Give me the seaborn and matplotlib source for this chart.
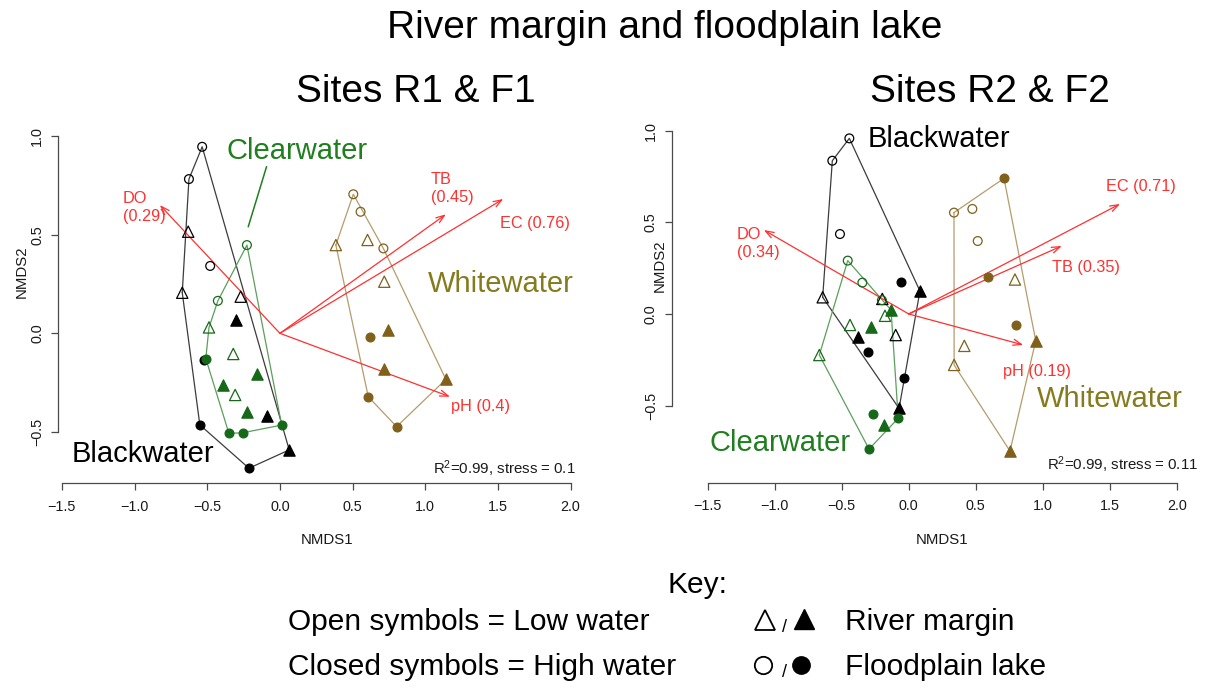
import matplotlib
matplotlib.use("Agg")
import matplotlib.pyplot as plt
from matplotlib import font_manager
import numpy as np
import pandas as pd
import seaborn as sns

# ---------------------------------------------------------------- data
X_TICKS = [-1.5, -1.0, -0.5, 0.0, 0.5, 1.0, 1.5, 2.0]
Y_TICKS = [-0.5, 0.0, 0.5, 1.0]
X_TICK_LABELS = ["\u22121.5", "\u22121.0", "\u22120.5", "0.0", "0.5", "1.0", "1.5", "2.0"]
Y_TICK_LABELS = ["\u22120.5", "0.0", "0.5", "1.0"]

# sample codes: habitat (R = river margin, F = floodplain lake)
#             + season  (L = low water / open symbol, H = high water / closed symbol)
CODES_12 = ["FL", "FL", "FL", "RL", "RL", "RL", "FH", "FH", "FH", "RH", "RH", "RH"]

# Sites R1 & F1 -- NMDS site scores
s1_black_x = [-0.535, -0.626, -0.480, -0.631, -0.672, -0.270, -0.523, -0.551, -0.213, -0.305, -0.092, 0.064]
s1_black_y = [0.947, 0.783, 0.342, 0.516, 0.206, 0.186, -0.135, -0.465, -0.685, 0.067, -0.418, -0.592]
s1_black_code = CODES_12

s1_clear_x = [-0.227, -0.427, -0.488, -0.321, -0.308, -0.510, -0.351, -0.257, 0.012, -0.160, -0.390, -0.229]
s1_clear_y = [0.448, 0.165, 0.030, -0.105, -0.313, -0.128, -0.508, -0.505, -0.466, -0.207, -0.262, -0.401]
s1_clear_code = ["FL", "FL", "RL", "RL", "RL", "FH", "FH", "FH", "FH", "RH", "RH", "RH"]

s1_white_x = [0.505, 0.555, 0.712, 0.385, 0.603, 0.718, 0.619, 0.608, 0.803, 0.745, 0.716, 1.142]
s1_white_y = [0.706, 0.617, 0.431, 0.448, 0.474, 0.262, -0.017, -0.322, -0.474, 0.017, -0.183, -0.234]
s1_white_code = CODES_12

# Sites R2 & F2 -- NMDS site scores
s2_black_x = [-0.443, -0.570, -0.513, -0.642, -0.197, -0.097, -0.057, -0.301, -0.035, 0.084, -0.381, -0.072]
s2_black_y = [0.958, 0.836, 0.436, 0.091, 0.082, -0.115, 0.176, -0.206, -0.347, 0.125, -0.127, -0.515]
s2_black_code = CODES_12

s2_clear_x = [-0.455, -0.346, -0.200, -0.438, -0.667, -0.177, -0.264, -0.078, -0.296, -0.132, -0.284, -0.184]
s2_clear_y = [0.291, 0.171, 0.075, -0.060, -0.224, -0.010, -0.547, -0.569, -0.737, 0.022, -0.069, -0.606]
s2_clear_code = CODES_12

s2_white_x = [0.338, 0.475, 0.515, 0.793, 0.415, 0.339, 0.711, 0.594, 0.798, 0.948, 0.756]
s2_white_y = [0.553, 0.573, 0.398, 0.188, -0.174, -0.278, 0.740, 0.204, -0.058, -0.146, -0.748]
s2_white_code = ["FL", "FL", "FL", "RL", "RL", "RL", "FH", "FH", "FH", "RH", "RH"]

# fitted environmental vectors (envfit): name, r2, arrow tip
s1_vec_name = ["DO", "TB", "EC", "pH"]
s1_vec_r2 = ["0.29", "0.45", "0.76", "0.4"]
s1_vec_x = [-0.826, 1.142, 1.537, 1.170]
s1_vec_y = [0.651, 0.604, 0.682, -0.322]

s2_vec_name = ["DO", "TB", "EC", "pH"]
s2_vec_r2 = ["0.34", "0.35", "0.71", "0.19"]
s2_vec_x = [-1.081, 1.142, 1.577, 0.855]
s2_vec_y = [0.458, 0.371, 0.600, -0.169]

s1_fit = "R$^{2}$=0.99, stress = 0.1"
s2_fit = "R$^{2}$=0.99, stress = 0.11"

# ---------------------------------------------------------------- style
POINT_COLOR = {"Blackwater": "#000000", "Clearwater": "#17691a", "Whitewater": "#80601a"}
HULL_COLOR = {"Blackwater": "#3c3c3c", "Clearwater": "#5c9e5c", "Whitewater": "#b49c6c"}
LABEL_COLOR = {"Blackwater": "#000000", "Clearwater": "#1f7f1f", "Whitewater": "#857b1e"}
VEC_COLOR = "#ff3030"
AXIS_COLOR = "#4a4a4a"

sns.set_theme(style="white")
plt.rcParams["font.family"] = ["Liberation Sans", "DejaVu Sans"]
plt.rcParams["mathtext.default"] = "regular"
plt.rcParams["text.color"] = "black"


def has_font(name):
    try:
        font_manager.findfont(font_manager.FontProperties(family=name),
                              fallback_to_default=False)
        return True
    except ValueError:
        return False


if has_font("Liberation Sans Narrow"):
    SMALL_FAMILY = ["Liberation Sans Narrow", "DejaVu Sans"]
    SMALL_SCALE = 1.0
else:
    SMALL_FAMILY = ["Liberation Sans", "DejaVu Sans"]
    SMALL_SCALE = 0.9

W, H = 1205, 688
fig = plt.figure(figsize=(W / 100, H / 100), dpi=100)
fig.patch.set_facecolor("white")


def px_axes(left, top, right, bottom):
    return fig.add_axes([left / W, 1 - bottom / H, (right - left) / W, (bottom - top) / H])


def convex_hull(xs, ys):
    pts = sorted(set(zip(xs, ys)))

    def cross(o, a, b):
        return (a[0] - o[0]) * (b[1] - o[1]) - (a[1] - o[1]) * (b[0] - o[0])

    lower, upper = [], []
    for p in pts:
        while len(lower) >= 2 and cross(lower[-2], lower[-1], p) <= 0:
            lower.pop()
        lower.append(p)
    for p in reversed(pts):
        while len(upper) >= 2 and cross(upper[-2], upper[-1], p) <= 0:
            upper.pop()
        upper.append(p)
    hull = lower[:-1] + upper[:-1]
    hull.append(hull[0])
    return [p[0] for p in hull], [p[1] for p in hull]


def make_frame(groups):
    rows = []
    for water, xs, ys, codes in groups:
        for x, y, c in zip(xs, ys, codes):
            rows.append({"water": water, "NMDS1": x, "NMDS2": y, "code": c})
    return pd.DataFrame(rows)


def draw_panel(ax, df, vec, xlim, ylim):
    # convex hulls per water type
    for water, sub in df.groupby("water"):
        hx, hy = convex_hull(sub["NMDS1"].tolist(), sub["NMDS2"].tolist())
        ax.plot(hx, hy, color=HULL_COLOR[water], lw=0.9, zorder=2)

    # environmental vectors
    names, r2s, vx, vy = vec
    for vxi, vyi in zip(vx, vy):
        ax.annotate("", xy=(vxi, vyi), xytext=(0, 0),
                    arrowprops=dict(arrowstyle="->,head_length=0.5,head_width=0.18",
                                    color=VEC_COLOR, lw=0.9, shrinkA=0, shrinkB=0),
                    zorder=3, annotation_clip=False)

    # site scores
    for (water, code), sub in df.groupby(["water", "code"]):
        col = POINT_COLOR[water]
        tri = code[0] == "R"
        filled = code[1] == "H"
        sns.scatterplot(data=sub, x="NMDS1", y="NMDS2", ax=ax,
                        marker="^" if tri else "o", s=66 if tri else 40,
                        color=col, facecolor=col if filled else "none",
                        edgecolor=col, linewidth=0.9, legend=False, zorder=4,
                        clip_on=False)

    ax.set_xlim(*xlim)
    ax.set_ylim(*ylim)
    ax.set_xlabel("")
    ax.set_ylabel("")
    ax.set_facecolor("none")
    for side in ("top", "right"):
        ax.spines[side].set_visible(False)
    ax.spines["left"].set_bounds(Y_TICKS[0], Y_TICKS[-1])
    ax.spines["bottom"].set_bounds(X_TICKS[0], X_TICKS[-1])
    for side in ("left", "bottom"):
        ax.spines[side].set_color(AXIS_COLOR)
        ax.spines[side].set_linewidth(0.9)
    ax.set_xticks(X_TICKS)
    ax.set_xticklabels(X_TICK_LABELS)
    ax.set_yticks(Y_TICKS)
    ax.set_yticklabels(Y_TICK_LABELS, rotation=90, va="center")
    ax.tick_params(axis="both", direction="out", length=5, width=0.9,
                   color=AXIS_COLOR, labelcolor="#1a1a1a",
                   labelsize=11.5 * SMALL_SCALE, bottom=True, left=True)
    ax.tick_params(axis="x", pad=7)
    ax.tick_params(axis="y", pad=5)
    for lab in ax.get_xticklabels() + ax.get_yticklabels():
        lab.set_family(SMALL_FAMILY)


df1 = make_frame([("Blackwater", s1_black_x, s1_black_y, s1_black_code),
                  ("Clearwater", s1_clear_x, s1_clear_y, s1_clear_code),
                  ("Whitewater", s1_white_x, s1_white_y, s1_white_code)])
df2 = make_frame([("Blackwater", s2_black_x, s2_black_y, s2_black_code),
                  ("Clearwater", s2_clear_x, s2_clear_y, s2_clear_code),
                  ("Whitewater", s2_white_x, s2_white_y, s2_white_code)])

ax1 = px_axes(58.0, 126.5, 585.1, 483.0)
draw_panel(ax1, df1, (s1_vec_name, s1_vec_r2, s1_vec_x, s1_vec_y), (-1.527, 2.10), (-0.76, 1.05))
ax2 = px_axes(671.7, 121.5, 1203.5, 482.6)
draw_panel(ax2, df2, (s2_vec_name, s2_vec_r2, s2_vec_x, s2_vec_y), (-1.7687, 2.20), (-0.92, 1.05))

vec_fs = 13 * SMALL_SCALE
vtxt = dict(color=VEC_COLOR, fontsize=vec_fs, family=SMALL_FAMILY, zorder=5)

# vector labels, Sites R1 & F1
n, r = s1_vec_name, s1_vec_r2
ax1.text(-1.08, 0.639, f"{n[0]}\n({r[0]})", ha="left", va="center", linespacing=1.25, **vtxt)
ax1.text(1.04, 0.733, f"{n[1]}\n({r[1]})", ha="left", va="center", linespacing=1.25, **vtxt)
ax1.text(1.755, 0.56, f"{n[2]} ({r[2]})", ha="center", va="center", **vtxt)
ax1.text(1.383, -0.374, f"{n[3]} ({r[3]})", ha="center", va="center", **vtxt)
# vector labels, Sites R2 & F2
n, r = s2_vec_name, s2_vec_r2
ax2.text(-1.281, 0.386, f"{n[0]}\n({r[0]})", ha="left", va="center", linespacing=1.25, **vtxt)
ax2.text(1.323, 0.251, f"{n[1]} ({r[1]})", ha="center", va="center", **vtxt)
ax2.text(1.733, 0.698, f"{n[2]} ({r[2]})", ha="center", va="center", **vtxt)
ax2.text(0.955, -0.315, f"{n[3]} ({r[3]})", ha="center", va="center", **vtxt)

# water-type labels
gtxt = dict(fontsize=21, ha="left", va="baseline", zorder=5)
ax1.text(-0.365, 0.887, "Clearwater", color=LABEL_COLOR["Clearwater"], **gtxt)
ax1.plot([-0.092, -0.218], [0.846, 0.541], color=LABEL_COLOR["Clearwater"], lw=1.1)
ax1.text(1.019, 0.210, "Whitewater", color=LABEL_COLOR["Whitewater"], **gtxt)
ax1.text(-1.430, -0.653, "Blackwater", color=LABEL_COLOR["Blackwater"], **gtxt)
ax2.text(-0.304, 0.911, "Blackwater", color=LABEL_COLOR["Blackwater"], **gtxt)
ax2.text(-1.483, -0.745, "Clearwater", color=LABEL_COLOR["Clearwater"], **gtxt)
ax2.text(0.958, -0.507, "Whitewater", color=LABEL_COLOR["Whitewater"], **gtxt)

# ---------------------------------------------------------------- page overlay (pixel units)
ov = fig.add_axes([0, 0, 1, 1], zorder=10)
ov.set_xlim(0, W)
ov.set_ylim(H, 0)
ov.axis("off")
ov.patch.set_visible(False)

ov.text(665, 38, "River margin and floodplain lake", fontsize=28, ha="center", va="baseline")
ov.text(416, 102, "Sites R1 & F1", fontsize=28, ha="center", va="baseline")
ov.text(990, 102, "Sites R2 & F2", fontsize=28, ha="center", va="baseline")

small = dict(family=SMALL_FAMILY, color="#1a1a1a")
ov.text(327, 540, "NMDS1", fontsize=12 * SMALL_SCALE, ha="center", va="center", **small)
ov.text(942, 540, "NMDS1", fontsize=12 * SMALL_SCALE, ha="center", va="center", **small)
ov.text(22, 272, "NMDS2", fontsize=12 * SMALL_SCALE, ha="center", va="center", rotation=90, **small)
ov.text(660, 266, "NMDS2", fontsize=12 * SMALL_SCALE, ha="center", va="center", rotation=90, **small)
ov.text(576, 469, s1_fit, fontsize=12 * SMALL_SCALE, ha="right", va="center", **small)
ov.text(1198, 465, s2_fit, fontsize=12 * SMALL_SCALE, ha="right", va="center", **small)

# key
kfs = 21.5
ov.text(697, 593, "Key:", fontsize=kfs, ha="center", va="baseline")
ov.text(288, 630, "Open symbols = Low water", fontsize=kfs, ha="left", va="baseline")
ov.text(288, 675, "Closed symbols = High water", fontsize=kfs, ha="left", va="baseline")
ov.plot([765], [620], marker="^", ms=15, mfc="none", mec="black", mew=1.3, ls="none")
ov.text(785, 632, "/", fontsize=13, ha="center", va="baseline")
ov.plot([804], [619], marker="^", ms=15, color="black", ls="none")
ov.text(845, 630, "River margin", fontsize=kfs, ha="left", va="baseline")
ov.plot([763], [665], marker="o", ms=12.5, mfc="none", mec="black", mew=1.3, ls="none")
ov.text(785, 677, "/", fontsize=13, ha="center", va="baseline")
ov.plot([801], [665], marker="o", ms=12.5, color="black", ls="none")
ov.text(845, 675, "Floodplain lake", fontsize=kfs, ha="left", va="baseline")

fig.savefig("out.png", dpi=100, facecolor="white")
